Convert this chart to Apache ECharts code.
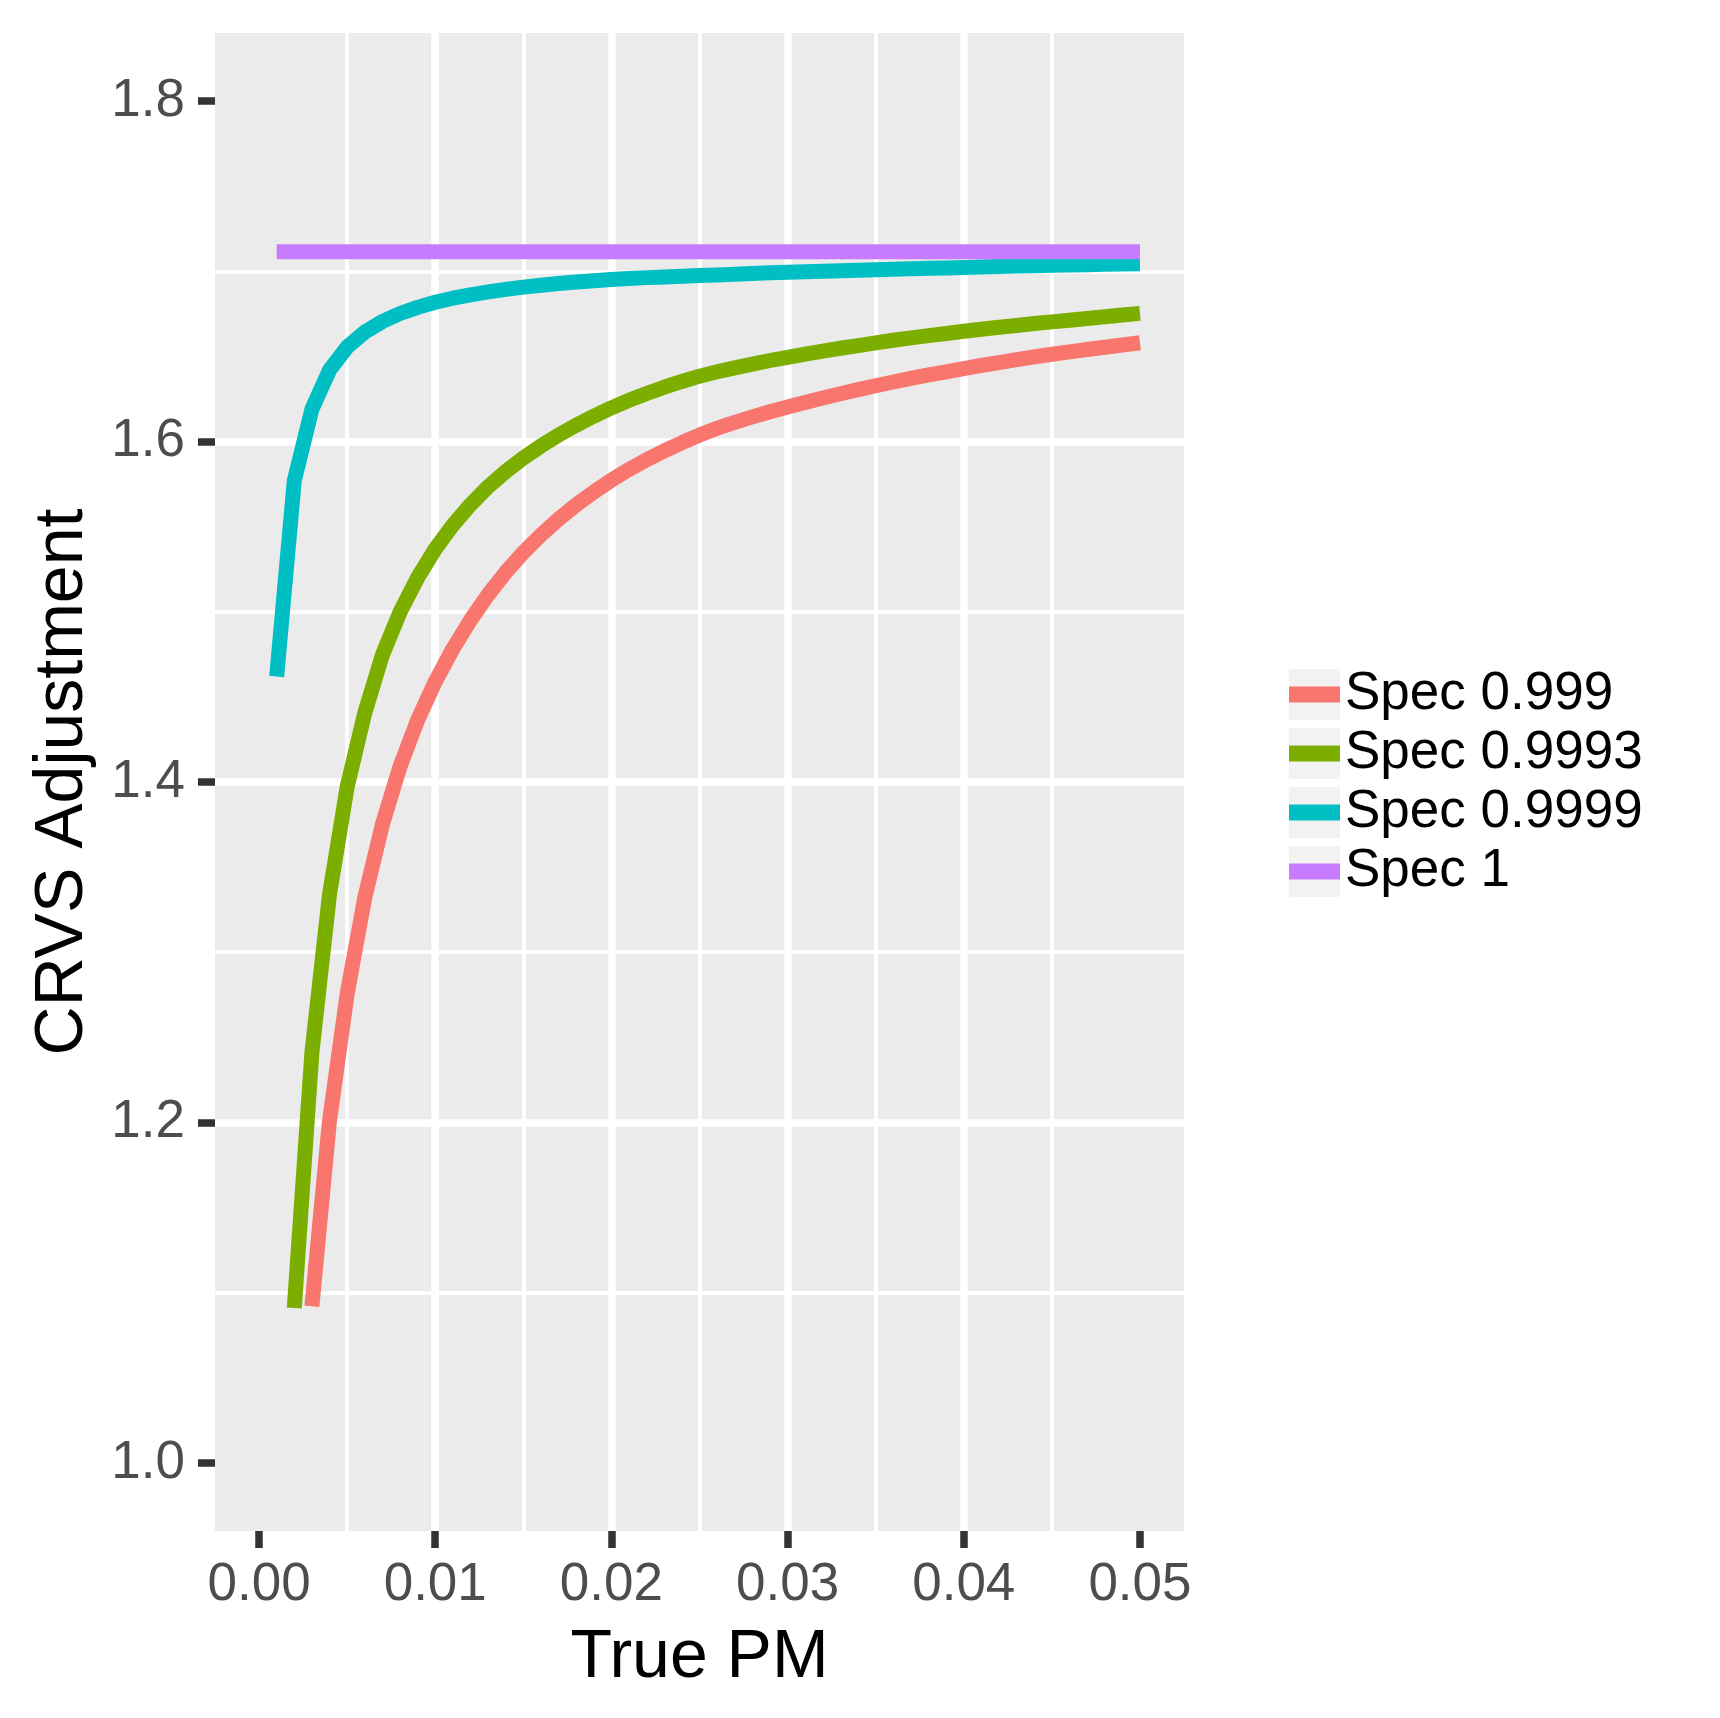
<!DOCTYPE html>
<html><head><meta charset="utf-8">
<script src="https://cdn.jsdelivr.net/npm/echarts@6/dist/echarts.min.js"></script>
<style>html,body{margin:0;padding:0;background:#fff}#c{width:1720px;height:1718px}</style>
</head><body><div id="c"></div>
<script>
// ---- data ----
const truePM = [0.001,0.002,0.003,0.004,0.005,0.006,0.007,0.008,0.009,0.010,
  0.011,0.012,0.013,0.014,0.015,0.016,0.017,0.018,0.019,0.020,
  0.021,0.022,0.023,0.024,0.025,0.026,0.027,0.028,0.029,0.030,
  0.031,0.032,0.033,0.034,0.035,0.036,0.037,0.038,0.039,0.040,
  0.041,0.042,0.043,0.044,0.045,0.046,0.047,0.048,0.049,0.050];
const seriesNames = ['Spec 0.999','Spec 0.9993','Spec 0.9999','Spec 1'];
const spec0999 = [null,null,1.092,1.201,1.2755,1.332,1.3750,1.4090,1.4363,1.4589,
  1.4782,1.4951,1.5100,1.5232,1.5348,1.5451,1.5544,1.5628,1.5704,1.5773,
  1.5836,1.5893,1.5945,1.5993,1.6038,1.6078,1.6113,1.6145,1.6175,1.6203,
  1.6230,1.6256,1.6281,1.6305,1.6328,1.6350,1.6371,1.6391,1.6410,1.6429,
  1.6447,1.6464,1.6481,1.6497,1.6513,1.6527,1.6541,1.6554,1.6567,1.6580];
const spec09993 = [null,1.091,1.241,1.334,1.397,1.4405,1.4745,1.4998,1.5200,1.5369,
  1.5509,1.5629,1.5734,1.5824,1.5903,1.5974,1.6038,1.6096,1.6149,1.6198,
  1.6242,1.6282,1.6319,1.6353,1.6384,1.6410,1.6433,1.6455,1.6476,1.6495,
  1.6514,1.6531,1.6548,1.6564,1.6580,1.6595,1.6609,1.6622,1.6635,1.6648,
  1.6660,1.6671,1.6682,1.6693,1.6703,1.6713,1.6723,1.6733,1.6743,1.6753];
const spec09999 = [1.462,1.577,1.619,1.642,1.6555,1.6643,1.6705,1.6752,1.6788,1.6818,
  1.6842,1.6862,1.6879,1.6894,1.6907,1.6918,1.6928,1.6937,1.6945,1.6952,
  1.6958,1.6963,1.6967,1.6971,1.6975,1.6979,1.6983,1.6987,1.6991,1.6994,
  1.6997,1.7000,1.7003,1.7006,1.7009,1.7012,1.7015,1.7018,1.7020,1.7023,
  1.7026,1.7028,1.7031,1.7033,1.7035,1.7037,1.7039,1.7041,1.7043,1.7045];
const spec1 = [1.7115,1.7115,1.7115,1.7115,1.7115,1.7115,1.7115,1.7115,1.7115,1.7115,
  1.7115,1.7115,1.7115,1.7115,1.7115,1.7115,1.7115,1.7115,1.7115,1.7115,
  1.7115,1.7115,1.7115,1.7115,1.7115,1.7115,1.7115,1.7115,1.7115,1.7115,
  1.7115,1.7115,1.7115,1.7115,1.7115,1.7115,1.7115,1.7115,1.7115,1.7115,
  1.7115,1.7115,1.7115,1.7115,1.7115,1.7115,1.7115,1.7115,1.7115,1.7115];
const xTicks = [0.00,0.01,0.02,0.03,0.04,0.05];
const yTicks = [1.0,1.2,1.4,1.6,1.8];

// ---- styling / layout ----
const colors = ['#F8766D','#7CAE00','#00BFC4','#C77CFF'];
const FONT = "'Liberation Sans', Arial, sans-serif";
const allValues = [spec0999, spec09993, spec09999, spec1];
const legendLeft = 1289, legendTop = 665, legendRow = 59, keySize = 51;

const chart = echarts.init(document.getElementById('c'), null, {renderer: 'canvas'});
const series = seriesNames.map((name, k) => ({
  name: name,
  type: 'line',
  data: truePM.map((x, i) => [x, allValues[k][i]]).filter(d => d[1] != null),
  showSymbol: false,
  symbol: 'none',
  z: 3 + k,
  lineStyle: {color: colors[k], width: 15, cap: 'butt', join: 'round'},
  itemStyle: {color: colors[k]},
  emphasis: {disabled: true}
}));

const keyRects = seriesNames.map((n, i) => ({
  type: 'rect', z: 1,
  shape: {x: legendLeft, y: legendTop + (legendRow - keySize) / 2 + i * legendRow, width: keySize, height: keySize},
  style: {fill: '#F2F2F2'}
}));

chart.setOption({
  animation: false,
  color: colors,
  textStyle: {fontFamily: FONT},
  grid: {left: 215, top: 33, width: 969, height: 1498, show: true, backgroundColor: '#EBEBEB', borderWidth: 0, containLabel: false},
  xAxis: {
    type: 'value', min: -0.0025, max: 0.0525, splitNumber: 5,
    axisLine: {show: false, onZero: false},
    axisTick: {show: true, length: 17, customValues: xTicks, lineStyle: {color: '#333333', width: 7.5}},
    axisLabel: {customValues: xTicks, formatter: v => v.toFixed(2), fontSize: 53, color: '#4D4D4D', margin: 28, fontFamily: FONT},
    splitLine: {show: true, showMinLine: false, showMaxLine: false, lineStyle: {color: '#FFFFFF', width: 7.5}},
    minorTick: {show: false, splitNumber: 2},
    minorSplitLine: {show: true, lineStyle: {color: '#FFFFFF', width: 3.75}},
    name: 'True PM', nameLocation: 'middle', nameGap: 93,
    nameTextStyle: {fontSize: 68, color: '#000000', fontFamily: FONT}
  },
  yAxis: {
    type: 'value', min: 0.96, max: 1.84, splitNumber: 4,
    axisLine: {show: false, onZero: false},
    axisTick: {show: true, length: 17, customValues: yTicks, lineStyle: {color: '#333333', width: 7.5}},
    axisLabel: {customValues: yTicks, formatter: v => v.toFixed(1), fontSize: 53, color: '#4D4D4D', margin: 30, fontFamily: FONT},
    splitLine: {show: true, showMinLine: false, showMaxLine: false, lineStyle: {color: '#FFFFFF', width: 7.5}},
    minorTick: {show: false, splitNumber: 2},
    minorSplitLine: {show: true, lineStyle: {color: '#FFFFFF', width: 3.75}},
    name: 'CRVS Adjustment', nameLocation: 'middle', nameGap: 118, nameRotate: 90,
    nameTextStyle: {fontSize: 68, color: '#000000', fontFamily: FONT}
  },
  legend: {
    orient: 'vertical', left: legendLeft, top: legendTop, padding: 0, itemGap: 0,
    itemWidth: keySize, itemHeight: 16, icon: 'rect',
    itemStyle: {borderWidth: 0},
    textStyle: {fontSize: 53, color: '#000000', lineHeight: legendRow, fontFamily: FONT},
    data: seriesNames, selectedMode: false
  },
  graphic: keyRects,
  series: series
});
</script>
</body></html>
